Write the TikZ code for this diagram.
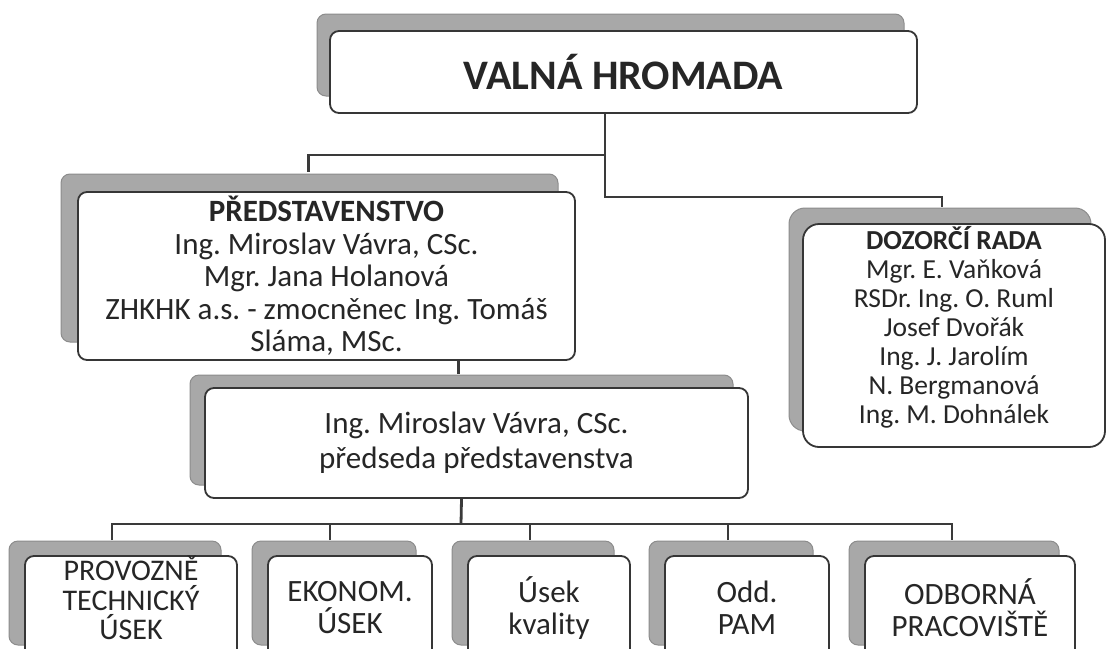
\documentclass[tikz,border=0pt]{standalone}
\usepackage{fontspec}
\setmainfont{Carlito}
\usetikzlibrary{shadows}
\definecolor{shd}{HTML}{A8A8A8}
\definecolor{shdedge}{HTML}{8C8C8C}
\definecolor{edge}{HTML}{363636}
\definecolor{conn}{HTML}{3A3A3A}
\definecolor{ink}{HTML}{262626}
\begin{document}
\frenchspacing
\begin{tikzpicture}[x=1pt,y=-1pt,
  orgbox/.style 2 args={draw=edge, line width=1.8pt, fill=white, rounded corners=9pt,
     align=center, inner sep=0pt, text=ink,
     copy shadow={shadow xshift=#1, shadow yshift=#2, fill=shd, draw=shdedge, line width=1pt}},
  plain/.style={align=center, inner sep=0pt, text=ink},
  link/.style={draw=conn, line width=2.8pt},
  bigtxt/.style={font=\fontsize{42}{44}\selectfont\bfseries},
  midtxt/.style={font=\fontsize{31}{32.5}\selectfont},
  drtxt/.style={font=\fontsize{27.5}{29}\selectfont},
  pstxt/.style={font=\fontsize{31}{35}\selectfont},
  lowtxt/.style={font=\fontsize{31}{32}\selectfont}]
\useasboundingbox (0,0) rectangle (1107,648);
\clip (0,0) rectangle (1107,648);
\fill[white] (0,0) rectangle (1107,648);

% boxes
\node[orgbox={-13pt}{17pt}, bigtxt, minimum width=587pt, minimum height=82pt] (vh) at (623.5,72) {VALNÁ HROMADA};
\node[orgbox={-17pt}{18pt}, midtxt, minimum width=497pt, minimum height=168pt] (pr) at (326.5,276)
  {\textbf{PŘEDSTAVENSTVO}\\Ing. Miroslav Vávra, CSc.\\Mgr. Jana Holanová\\ZHKHK a.s. - zmocněnec Ing. Tomáš\\Sláma, MSc.};
\node[orgbox={-14pt}{16pt}, rounded corners=16pt, minimum width=302pt, minimum height=223pt] (dr) at (954,335.5) {};
\node[plain, drtxt] (drt) at ([yshift=8pt]dr.center)
  {\textbf{DOZORČÍ RADA}\\Mgr. E. Vaňková\\RSDr. Ing. O. Ruml\\Josef Dvořák\\Ing. J. Jarolím\\N. Bergmanová\\Ing. M. Dohnálek};
\node[orgbox={-15pt}{13pt}, pstxt, minimum width=543pt, minimum height=110pt] (ps) at (476.5,443)
  {Ing. Miroslav Vávra, CSc.\\předseda představenstva};
\node[orgbox={-16pt}{15pt}, minimum width=212pt, minimum height=104pt] (b1) at (131,608) {};
\node[plain, font=\fontsize{30}{29.5}\selectfont] (b1t) at ([yshift=10pt]b1.center) {PROVOZNĚ\\TECHNICKÝ\\ÚSEK};
\node[orgbox={-16pt}{15pt}, lowtxt, minimum width=164pt, minimum height=104pt] (b2) at (350,608) {EKONOM.\\ÚSEK};
\node[orgbox={-16pt}{15pt}, lowtxt, minimum width=162pt, minimum height=104pt] (b3) at (549,608) {Úsek\\kvality};
\node[orgbox={-16pt}{15pt}, lowtxt, minimum width=164pt, minimum height=104pt] (b4) at (747,608) {Odd.\\PAM};
\node[orgbox={-16pt}{15pt}, lowtxt, minimum width=210pt, minimum height=104pt] (b5) at (970,608) {ODBORNÁ\\PRACOVIŠTĚ};

% junctions
\coordinate (j1) at (605,155);
\coordinate (j2) at (605,197);
\coordinate (j3) at (461,524);

% connectors
\draw[link] (vh.south -| j1) -- (j2) -| ([xshift=-12pt,yshift=16pt]dr.north);
\draw[link] (j1) -| ([xshift=-18pt,yshift=19pt]pr.north);
\draw[link] ([xshift=-18pt]ps.north |- pr.south) -- ([xshift=-18pt,yshift=13pt]ps.north);
\draw[link] ([xshift=-15pt]ps.south) -- (j3);
\draw[link] ([xshift=-19pt,yshift=15pt]b1.north) |- (j3) -| ([xshift=-18pt,yshift=15pt]b5.north);
\path ([xshift=-20pt,yshift=15pt]b2.north) coordinate (d2)
      ([xshift=-19pt,yshift=15pt]b3.north) coordinate (d3)
      ([xshift=-19pt,yshift=15pt]b4.north) coordinate (d4);
\draw[link] (d2) -- (d2 |- j3);
\draw[link] (d3) -- (d3 |- j3);
\draw[link] (d4) -- (d4 |- j3);
\end{tikzpicture}
\end{document}
